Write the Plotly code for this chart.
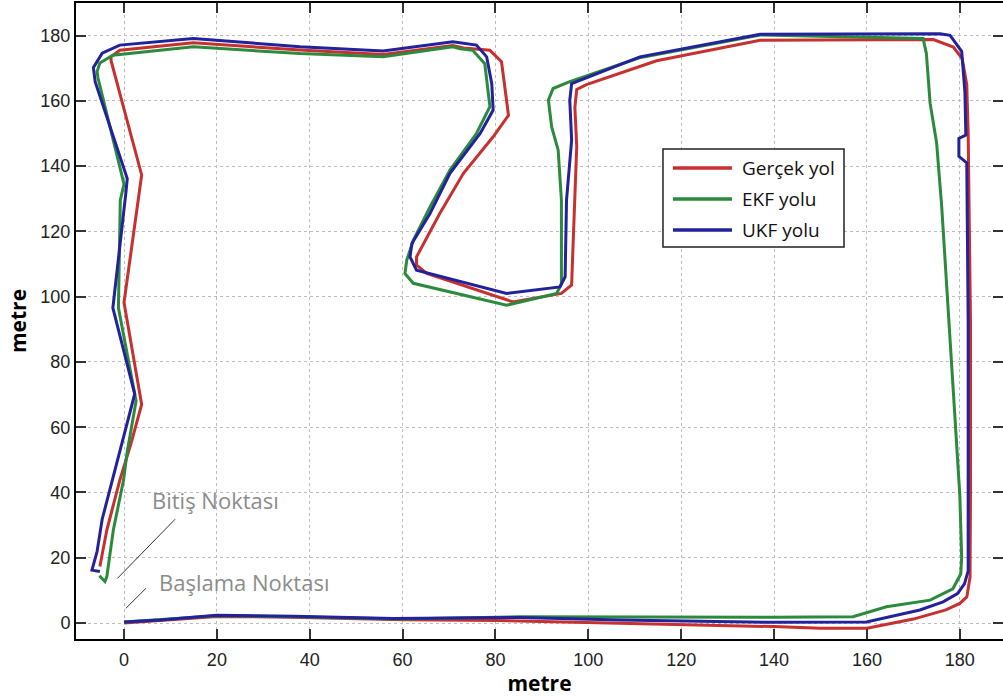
import plotly.graph_objects as go

# ---------------- data (metres) ----------------
series_names = ["Gerçek yol", "EKF yolu", "UKF yolu"]

true_x = [0, 8, 20, 36, 60, 80, 100, 120, 140, 150, 160, 170, 177, 180, 181.5, 182.2, 182.3, 182.3,
          182.0, 181.8, 181.5, 180.5, 178.6, 174.3, 137, 114.7, 99.6, 97.5, 97.1, 97.5, 96.8, 96.4,
          94.2, 83.8, 65.2, 63, 63, 68, 73.1, 79.5, 82.8, 82, 81.3, 78.8, 73.1, 70.8, 55.8, 37.9,
          14.9, -0.9, -2.8, -2.8, 3.8, 0, 3.8, 1.5, -0.9, -3.7, -5.2]
true_y = [0, 0.8, 2.0, 1.8, 1.0, 0.8, 0.2, -0.4, -1.1, -1.6, -1.6, 1.2, 4, 6, 8, 14, 40, 92,
          137, 150, 165, 173, 176.5, 178.8, 178.6, 172.3, 165.0, 163.5, 158, 146, 119.4, 103.6,
          101, 98.4, 107.1, 109.7, 112.2, 125.5, 137.8, 149, 155.6, 165.3, 172, 175.5, 176.2, 177.0,
          174.2, 175.6, 177.8, 175.5, 173.5, 172.4, 137.3, 98.2, 67, 55, 43.8, 28.5, 17.3]

ekf_x = [0, 20, 36, 60, 85, 106.8, 139.8, 157, 164.2, 173.6, 178.5, 180.2, 180.4, 180, 178.6, 177.2,
         176.1, 175, 173.6, 172.8, 172.1, 137, 111, 96, 92.4, 91.4, 92.1, 93.5, 94.2, 94.2, 93.2,
         82.4, 62.3, 60.5, 60.9, 62.3, 65.9, 70.2, 75.9, 78.8, 78.4, 77.7, 75.1, 72.4, 70.8, 55.8,
         37.9, 14.9, -2.4, -5.2, -5.8, -5.6, 0, -0.8, -1.2, 2.6, 0.7, -0.1, -2.3, -3.7, -4.1, -5.3]
ekf_y = [0.3, 2.2, 1.9, 1.2, 1.9, 1.8, 1.8, 1.9, 5, 7, 10.5, 15, 20, 39.2, 71.5, 101,
         127.6, 147.2, 159.3, 174.5, 179.1, 180.2, 173.2, 165.9, 163.8, 160.2, 152, 144.9, 129.6, 104.1, 101,
         97.4, 104.1, 107.1, 111.2, 117.3, 127.5, 138.8, 150, 158.2, 163.3, 171.4, 175.5, 176, 176.6, 173.5,
         174.5, 176.6, 174, 171.6, 169, 167, 134.5, 129.6, 96.6, 68, 52.6, 43.8, 28.5, 14.2, 12.7, 14.5]

ukf_x = [0, 7.8, 20, 36.5, 58, 79.5, 85.3, 106.8, 139.8, 159.9, 171.4, 176.4, 179.5, 181.0, 181.8,
         181.8, 181.5, 179.8, 179.8, 181.3, 181.1, 180.4, 177.9, 175.7, 137, 111.1, 96.4, 96, 96.4,
         95.3, 95, 93.9, 82.4, 63, 61.6, 62, 65.9, 70.2, 76.7, 79.5, 79.2, 78.1, 75.9, 70.8, 55.8,
         37.9, 23.5, 14.9, -0.9, -4.7, -6.6, -6.2, 0.7, 0.4, -2.4, 2.3, 1.5, -2.4, -4.7, -5.8, -6.9, -5.2]
ukf_y = [0.3, 0.9, 2.4, 2.1, 1.4, 1.5, 1.7, 0.9, 0.2, 0.3, 4, 6.5, 9, 12, 16,
         92.5, 141, 143, 148.5, 149.5, 162.7, 175.2, 180.1, 180.6, 180.4, 173.5, 165.3, 160.2, 148,
         129.6, 106.1, 103, 101, 108.1, 112.2, 116.3, 125.5, 137.8, 150, 157.2, 165.3, 173.5, 177.1, 178.1, 175.3,
         176.6, 178.1, 179.1, 177.1, 174.6, 170.2, 165.8, 136.2, 131.8, 96.6, 70.2, 65.8, 44.9, 31.8, 21.9, 16.2, 15.8]

x_ticks = [0, 20, 40, 60, 80, 100, 120, 140, 160, 180]
y_ticks = [0, 20, 40, 60, 80, 100, 120, 140, 160, 180]

# ---------------- styling ----------------
colors = ["#c83030", "#2b8a3c", "#22229c"]
LW = 3

fig = go.Figure()
for xs, ys, name, col in [(true_x, true_y, series_names[0], colors[0]),
                          (ekf_x, ekf_y, series_names[1], colors[1]),
                          (ukf_x, ukf_y, series_names[2], colors[2])]:
    fig.add_trace(go.Scatter(x=xs, y=ys, mode="lines", name=name,
                             line=dict(color=col, width=LW), showlegend=False))

axis_common = dict(
    showgrid=True, gridcolor="#bdbdbd", griddash="dot", gridwidth=1,
    zeroline=False, showline=True, linecolor="black", linewidth=2, mirror="ticks",
    ticks="inside", ticklen=10, tickwidth=1.5, tickcolor="#333333",
    tickfont=dict(family="Liberation Sans, Arial, sans-serif", size=18, color="#222222"),
)

fig.update_xaxes(range=[-10.34, 189.3], tickvals=x_ticks, ticktext=[str(v) for v in x_ticks],
                 title=dict(text="metre", font=dict(family="Open Sans", size=21, color="black", weight="bold"),
                            standoff=10),
                 ticklabelstandoff=3, **axis_common)
fig.update_yaxes(range=[-4.9, 190.0], tickvals=y_ticks, ticktext=[str(v) for v in y_ticks],
                 title=dict(text="metre", font=dict(family="Open Sans", size=21, color="black", weight="bold"),
                            standoff=8),
                 ticklabelstandoff=0, **axis_common)

# custom legend box (paper coords)
shapes = [dict(type="rect", xref="paper", yref="paper", x0=0.6332, x1=0.8285, y0=0.6164, y1=0.7704,
               line=dict(color="#222222", width=1.5), fillcolor="white", layer="above")]
annots = []
rows = [0.7406, 0.6918, 0.6431]
for name, col, ry in zip(series_names, colors, rows):
    shapes.append(dict(type="line", xref="paper", yref="paper", x0=0.644, x1=0.7077, y0=ry, y1=ry,
                       line=dict(color=col, width=3.5), layer="above"))
    annots.append(dict(text=name, xref="paper", yref="paper", x=0.7163, y=ry, xanchor="left",
                       yanchor="middle", showarrow=False,
                       font=dict(family="Open Sans", size=19, color="#111111")))

# start / end pointers
shapes.append(dict(type="line", xref="x", yref="y", x0=-1.4, y0=13.7, x1=11, y1=31.8,
                   line=dict(color="#333333", width=1)))
shapes.append(dict(type="line", xref="x", yref="y", x0=0.4, y0=4.5, x1=4.7, y1=10.6,
                   line=dict(color="#333333", width=1)))
annots.append(dict(text="Bitiş Noktası", xref="x", yref="y", x=5.6, y=37.7, xanchor="left",
                   yanchor="middle", showarrow=False,
                   font=dict(family="Open Sans", size=22, color="#8c8c8c")))
annots.append(dict(text="Başlama Noktası", xref="x", yref="y", x=7.1, y=12.6, xanchor="left",
                   yanchor="middle", showarrow=False,
                   font=dict(family="Open Sans", size=22, color="#8c8c8c")))

fig.update_layout(
    width=1003, height=697,
    margin=dict(l=76, r=0, t=3, b=58, autoexpand=False),
    plot_bgcolor="white", paper_bgcolor="white",
    shapes=shapes, annotations=annots, showlegend=False,
)

fig.write_html("out.html")
